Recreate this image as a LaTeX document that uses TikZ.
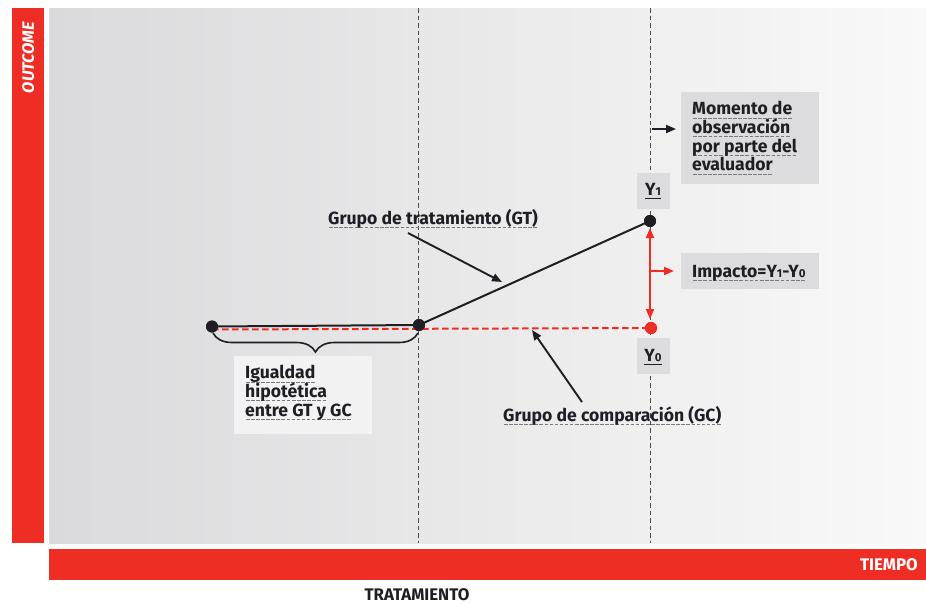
\documentclass[tikz,border=0pt]{standalone}
\usepackage{fontspec}
\setmainfont{Fira Sans}
\usetikzlibrary{arrows.meta,decorations.pathreplacing}
\definecolor{rd}{HTML}{EE2E24}
\definecolor{txt}{HTML}{1E1E24}
\definecolor{boxg}{HTML}{DCDCDE}
\definecolor{boxl}{HTML}{F2F2F2}
\definecolor{bgL}{HTML}{DADADC}
\definecolor{bgR}{HTML}{F9F9F9}
\definecolor{ulg}{HTML}{7A7A7A}
\definecolor{dl}{HTML}{4A4A4A}
\newcommand\dul[1]{\setbox0\hbox{#1}\mbox{\rlap{\textcolor{ulg}{\lower3.8pt\hbox to\wd0{\xleaders\hbox to 5pt{\hss\vrule width 3.6pt height .8pt\hss}\hfill}}}\box0}}
\newcommand\sul[1]{\setbox0\hbox{#1}\mbox{\rlap{\lower3.8pt\hbox{\vrule width\wd0 height .9pt}}\box0}}
\newcommand\sm[1]{{\fontsize{11.5}{11.5}\selectfont #1}}
\begin{document}
\begin{tikzpicture}[x=1pt,y=-1pt,
  lbl/.style={font=\fontsize{17.6}{18.8}\selectfont\bfseries, text=txt, align=left, inner sep=0},
  barlbl/.style={font=\fontsize{16.8}{17}\selectfont\bfseries, inner sep=0, text depth=0pt},
  gbox/.style={fill=boxg, anchor=north west, inner sep=0},
  lbox/.style={fill=boxl, anchor=north west, inner sep=0},
  dotb/.style={circle, fill=txt, minimum size=12, inner sep=0},
  dotr/.style={circle, fill=rd, minimum size=12, inner sep=0},
  vdash/.style={draw=dl, line width=0.9, dash pattern=on 4.5 off 3},
  bline/.style={draw=txt, line width=2},
  rdash/.style={draw=rd, line width=2, dash pattern=on 6.5 off 3.5},
  barrow/.style={draw=txt, line width=1.9, -{Triangle[length=10,width=8]}},
  rarrow/.style={draw=rd, line width=2, -{Triangle[length=10,width=8]}},
  rdarrow/.style={draw=rd, line width=2, {Triangle[length=10,width=8]}-{Triangle[length=10,width=8]}}
]
\useasboundingbox (0,0) rectangle (926,603);
\fill[white] (0,0) rectangle (926,603);
% bars and plot area
\node[fill=rd, anchor=north west, minimum width=32, minimum height=535, inner sep=0] (ybar) at (12,8) {};
\node[barlbl, text=white, rotate=90, anchor=east, font=\fontsize{16.4}{17}\selectfont\bfseries\itshape] (ylab) at (28,22) {OUTCOME};
\node[anchor=north west, minimum width=877, minimum height=535, inner sep=0, left color=bgL, right color=bgR] (plot) at (49,8) {};
\node[fill=rd, anchor=north west, minimum width=877, minimum height=31, inner sep=0] (xbar) at (49,549) {};
\node[barlbl, text=white, anchor=base east] (xlab) at (918,570) {TIEMPO};
\node[barlbl, text=txt, anchor=base] (trat) at (417,600) {TRATAMIENTO};
% dashed verticals
\coordinate (t1) at (418,8); \coordinate (b1) at (418,543);
\coordinate (t2) at (650,8); \coordinate (b2) at (650,543);
\draw[vdash] (t1) -- (b1);
\draw[vdash] (t2) -- (b2);
% boxes
\node[gbox, minimum width=138, minimum height=92] (mombox) at (681,92) {};
\node[lbl, anchor=north west] (momtxt) at (692,101) {\dul{Momento de}\\\dul{observación}\\\dul{por parte del}\\\dul{evaluador}};
\node[gbox, minimum width=138, minimum height=36] (impbox) at (681,253) {};
\node[lbl, anchor=base west] (imptxt) at (692,277) {\dul{Impacto=Y\sm{1}-Y\sm{0}}};
\node[gbox, minimum width=33, minimum height=36] (y1box) at (637,173) {};
\node[lbl, anchor=base] (y1txt) at (653,195) {\sul{Y\sm{1}}};
\node[gbox, minimum width=33, minimum height=36] (y0box) at (637,338) {};
\node[lbl, anchor=base] (y0txt) at (653,361) {\sul{Y\sm{0}}};
\node[lbox, minimum width=138, minimum height=78] (igbox) at (234,356) {};
\node[lbl, anchor=north west] (igtxt) at (245,365) {\dul{Igualdad}\\\dul{hipotética}\\\dul{entre GT y GC}};
% points
\node[dotb] (A) at (212,326.5) {};
\node[dotb] (B) at (419,325) {};
\node[dotb] (C) at (650,221) {};
\node[dotr] (D) at (651,328) {};
\coordinate (Ar) at (212,329.5);
\draw[rdash] (Ar) -- (D.center);
\draw[bline] (A.center) -- (B.center);
\draw[bline] (B.center) -- (C.center);
\node[dotb] at (A) {};
\node[dotb] at (B) {};
\node[dotb] at (C) {};
\node[dotr] at (D) {};
% brace
\coordinate (br1) at (213,333); \coordinate (br2) at (418,333);
\draw[draw=txt, line width=1.6, decorate, decoration={brace, mirror, amplitude=19}] (br1) -- (br2);
% labels with arrows
\node[lbl, anchor=base west] (gtlab) at (328,224) {\dul{Grupo de tratamiento (GT)}};
\node[lbl, anchor=base west] (gclab) at (503,421) {\dul{Grupo de comparación (GC)}};
\coordinate (gta) at (408,233); \coordinate (gtb) at (502,282);
\draw[barrow] (gta) -- (gtb);
\coordinate (gca) at (582,402); \coordinate (gcb) at (532,330);
\draw[barrow] (gca) -- (gcb);
% arrows at observation line
\coordinate (m1) at (652,129); \coordinate (m2) at (676,129);
\draw[barrow] (m1) -- (m2);
\coordinate (i1) at (650,271); \coordinate (i2) at (674,271);
\draw[rarrow] (i1) -- (i2);
\coordinate (v1) at (650,228); \coordinate (v2) at (650,319);
\draw[rdarrow] (v1) -- (v2);
\end{tikzpicture}
\end{document}
